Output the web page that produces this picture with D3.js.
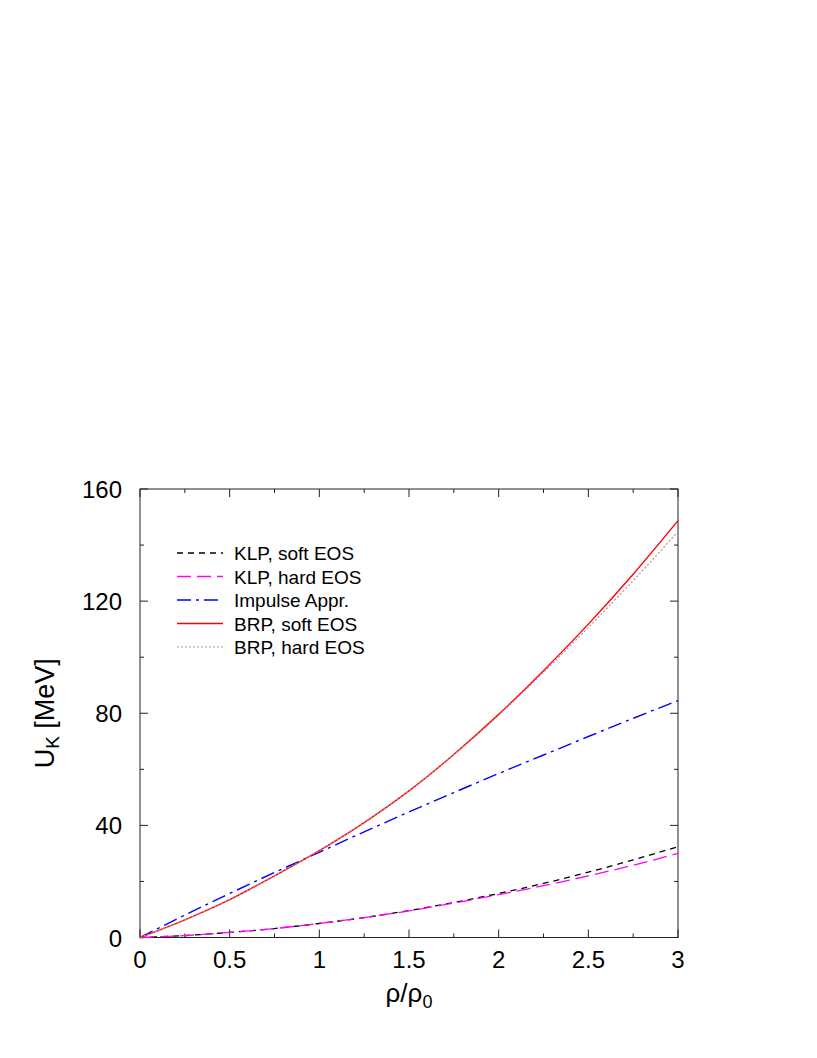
<!DOCTYPE html>
<html>
<head>
<meta charset="utf-8">
<script src="https://cdn.jsdelivr.net/npm/d3@7/dist/d3.min.js"></script>
<style>
  body { margin: 0; background: #fff; }
  text { font-family: "Liberation Sans", Arial, Helvetica, sans-serif; }
</style>
</head>
<body>
<div id="chart"></div>
<script>
// density rho/rho0 sample points
const rho = [0, 0.25, 0.5, 0.75, 1, 1.25, 1.5, 1.75, 2, 2.25, 2.5, 2.75, 3];

// U_K [MeV]
const klpSoft   = [0, 0.7, 1.8, 3.2, 5.0, 7.1, 9.6, 12.5, 15.7, 19.3, 23.3, 27.7, 32.4];
const klpHard   = [0, 0.7, 1.8, 3.2, 5.0, 7.1, 9.5, 12.3, 15.3, 18.5, 22.0, 25.8, 30.0];
const impulse   = [0, 8.0, 15.7, 23.2, 30.4, 37.7, 44.8, 51.7, 58.5, 65.1, 71.7, 78.2, 84.5];
const brpSoft   = [0, 6.3, 13.5, 22.0, 31.0, 41.0, 52.3, 65.3, 79.6, 95.2, 111.8, 129.6, 148.7];
const brpHard   = [0, 6.3, 13.5, 22.0, 31.0, 41.0, 52.3, 65.2, 79.3, 94.6, 110.6, 127.3, 144.8];

const xTicks = [0, 0.5, 1, 1.5, 2, 2.5, 3];
const yTicks = [0, 40, 80, 120, 160];

const series = [
  { name: "KLP, soft EOS",  values: klpSoft, color: "#000000", dash: "6,5",        width: 1.3 },
  { name: "KLP, hard EOS",  values: klpHard, color: "#ff00ff", dash: "14,6",       width: 1.3 },
  { name: "Impulse Appr.",  values: impulse, color: "#0000ff", dash: "14,5,3,5",   width: 1.4 },
  { name: "BRP, soft EOS",  values: brpSoft, color: "#ff0000", dash: null,         width: 1.4 },
  { name: "BRP, hard EOS",  values: brpHard, color: "#bc8f8f", dash: "2,2",        width: 1.2 }
];

const width = 817, height = 1058;
const margin = { left: 140, right: 139, top: 489, bottom: 120.5 };

const svg = d3.select("#chart").append("svg")
  .attr("width", width)
  .attr("height", height);

const x = d3.scaleLinear().domain([0, 3]).range([margin.left, width - margin.right]);
const y = d3.scaleLinear().domain([0, 160]).range([height - margin.bottom, margin.top]);

// frame
svg.append("rect")
  .attr("x", x(0)).attr("y", y(160))
  .attr("width", x(3) - x(0)).attr("height", y(0) - y(160))
  .attr("fill", "none").attr("stroke", "#222").attr("stroke-width", 1);

// ticks, inward on all four sides
const xMinor = d3.range(0, 3.001, 0.25);
const yMinor = d3.range(0, 160.1, 20);
const tickG = svg.append("g").attr("stroke", "#222").attr("stroke-width", 1);
xMinor.forEach(v => {
  const len = xTicks.includes(v) ? 8 : 4;
  tickG.append("line").attr("x1", x(v)).attr("x2", x(v)).attr("y1", y(0)).attr("y2", y(0) - len);
  tickG.append("line").attr("x1", x(v)).attr("x2", x(v)).attr("y1", y(160)).attr("y2", y(160) + len);
});
yMinor.forEach(v => {
  const len = yTicks.includes(v) ? 8 : 4;
  tickG.append("line").attr("x1", x(0)).attr("x2", x(0) + len).attr("y1", y(v)).attr("y2", y(v));
  tickG.append("line").attr("x1", x(3)).attr("x2", x(3) - len).attr("y1", y(v)).attr("y2", y(v));
});

// tick labels
svg.append("g").selectAll("text")
  .data(xTicks).enter().append("text")
  .attr("x", d => x(d))
  .attr("y", y(0) + 30)
  .attr("text-anchor", "middle")
  .attr("font-size", 24)
  .text(d => d);

svg.append("g").selectAll("text")
  .data(yTicks).enter().append("text")
  .attr("x", x(0) - 18)
  .attr("y", d => y(d) + 9)
  .attr("text-anchor", "end")
  .attr("font-size", 24)
  .text(d => d);

// axis titles
const xt = svg.append("text")
  .attr("x", x(1.5))
  .attr("y", y(0) + 64)
  .attr("text-anchor", "middle")
  .attr("font-size", 26);
xt.append("tspan").text("ρ/ρ");
xt.append("tspan").attr("font-size", 18).attr("dy", 6).text("0");

const yt = svg.append("text")
  .attr("transform", `translate(${x(0) - 86},${y(80)}) rotate(-90)`)
  .attr("text-anchor", "middle")
  .attr("font-size", 27);
yt.append("tspan").text("U");
yt.append("tspan").attr("font-size", 19).attr("dy", 5).text("K");
yt.append("tspan").attr("dy", -5).text(" [MeV]");

// curves
const line = d3.line()
  .x((d, i) => x(rho[i]))
  .y(d => y(d))
  .curve(d3.curveMonotoneX);

series.forEach(s => {
  svg.append("path")
    .datum(s.values)
    .attr("d", line)
    .attr("fill", "none")
    .attr("stroke", s.color)
    .attr("stroke-width", s.width)
    .attr("stroke-dasharray", s.dash);
});

// legend
const legend = svg.append("g");
series.forEach((s, i) => {
  const ly = 553 + i * 23.5;
  legend.append("line")
    .attr("x1", 177).attr("x2", 223)
    .attr("y1", ly).attr("y2", ly)
    .attr("stroke", s.color)
    .attr("stroke-width", s.width)
    .attr("stroke-dasharray", s.dash);
  legend.append("text")
    .attr("x", 234).attr("y", ly + 7)
    .attr("font-size", 19)
    .text(s.name);
});
</script>
</body>
</html>
